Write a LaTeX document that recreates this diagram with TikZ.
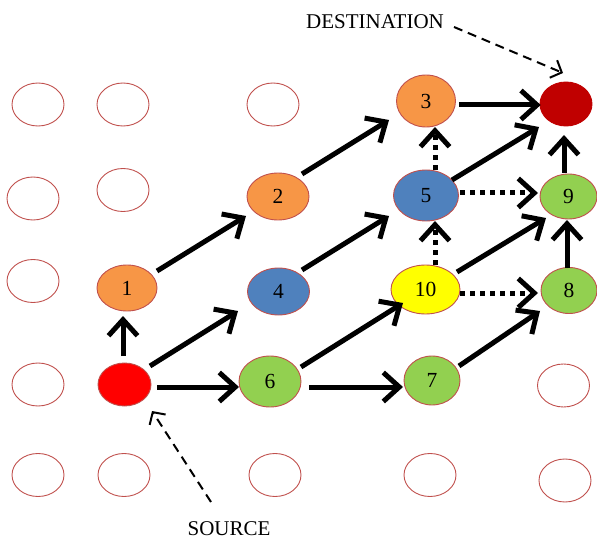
\documentclass[tikz,border=0pt]{standalone}
\usepackage{fontspec}
\setmainfont{Liberation Serif}
\usetikzlibrary{arrows.meta,shapes.geometric}
\definecolor{rim}{HTML}{C0504D}
\definecolor{orng}{HTML}{F79646}
\definecolor{blu}{HTML}{4F81BD}
\definecolor{grn}{HTML}{92D050}
\definecolor{ylw}{HTML}{FFFF00}
\definecolor{srcred}{HTML}{FF0000}
\definecolor{dstred}{HTML}{C00000}
\begin{document}
\begin{tikzpicture}[x=1pt,y=-1pt,
  cell/.style={ellipse, draw=rim, line width=0.9pt, minimum width=52pt, minimum height=43pt, inner sep=0pt},
  num/.style={font=\fontsize{21.5}{25}\selectfont, text=black},
  label/.style={font=\fontsize{21}{25}\selectfont, inner sep=0pt},
  link/.style={line width=5pt, -{Straight Barb[length=16pt,width=29pt]}},
  dotlink/.style={link, dash pattern=on 5pt off 5pt},
  hint/.style={line width=2pt, dash pattern=on 9pt off 6pt, -{Straight Barb[length=9pt,width=19pt]}},
]
\useasboundingbox (0,0) rectangle (597,540);

% empty grid cells
\node[cell] (e1) at (38,104.5) {};
\node[cell] (e2) at (123,104.5) {};
\node[cell] (e3) at (273,104.5) {};
\node[cell] (e4) at (33,198.5) {};
\node[cell] (e5) at (123,190) {};
\node[cell] (e6) at (33,281) {};
\node[cell] (e7) at (38,384.5) {};
\node[cell] (e8) at (563.5,385.5) {};
\node[cell] (e9) at (38,475) {};
\node[cell] (e10) at (124,475) {};
\node[cell] (e11) at (275,475) {};
\node[cell] (e12) at (430,475) {};
\node[cell] (e13) at (565,480.5) {};

% path cells
\node[cell, fill=srcred, minimum width=53pt, minimum height=43pt] (src) at (124.5,384.5) {};
\node[cell, fill=orng, minimum width=60pt, minimum height=46pt, num] (n1) at (127,288) {1};
\node[cell, fill=orng, minimum width=62pt, minimum height=47pt, num] (n2) at (278,196.5) {2};
\node[cell, fill=orng, minimum width=59pt, minimum height=52pt, num] (n3) at (426,101) {3};
\node[cell, fill=blu, minimum width=62pt, minimum height=47pt, num] (n4) at (278.5,291.5) {4};
\node[cell, fill=blu, minimum width=65pt, minimum height=51pt, num] (n5) at (426,195.5) {5};
\node[cell, fill=grn, minimum width=62pt, minimum height=51pt, num] (n6) at (270,381.5) {6};
\node[cell, fill=grn, minimum width=56pt, minimum height=49pt, num] (n7) at (432,380.5) {7};
\node[cell, fill=grn, minimum width=56pt, minimum height=46pt, num] (n8) at (569,290.5) {8};
\node[cell, fill=grn, minimum width=57pt, minimum height=45pt, num] (n9) at (568.5,196.5) {9};
\node[cell, fill=ylw, minimum width=69pt, minimum height=49pt, num] (n10) at (425.5,289.5) {10};
\node[cell, fill=dstred, draw=dstred, minimum width=52pt, minimum height=44pt] (dst) at (566,104) {};

% labels
\node[label] (dlabel) at (375,22) {DESTINATION};
\node[label] (slabel) at (229,529) {SOURCE};

% solid moves
\draw[link] ([shift={(-1.5,-28.5)}]src.center) -- ([shift={(-4,28)}]n1.center);
\draw[link] ([shift={(25.5,-18.5)}]src.center) -- ([shift={(-40.5,19.5)}]n4.center);
\draw[link] ([shift={(32.5,2.5)}]src.center) -- ([shift={(-31,5.5)}]n6.center);
\draw[link] ([shift={(30,-17)}]n1.center) -- ([shift={(-32,19.5)}]n2.center);
\draw[link] ([shift={(24,-22.5)}]n2.center) -- ([shift={(-37,19)}]n3.center);
\draw[link] ([shift={(23.5,-21.5)}]n4.center) -- ([shift={(-37,20.5)}]n5.center);
\draw[link] ([shift={(31,-14.5)}]n6.center) -- ([shift={(-22.5,13.5)}]n10.center);
\draw[link] ([shift={(39,5.5)}]n6.center) -- ([shift={(-29,6.5)}]n7.center);
\draw[link] ([shift={(27,-14.5)}]n7.center) -- ([shift={(-29,20.5)}]n8.center);
\draw[link] ([shift={(31.5,-17.5)}]n10.center) -- ([shift={(-22.5,21.5)}]n9.center);
\draw[link] ([shift={(26,-15.5)}]n5.center) -- ([shift={(-27,23)}]dst.center);
\draw[link] ([shift={(33,4)}]n3.center) -- ([shift={(-25.3,1)}]dst.center);
\draw[link] ([shift={(-4.5,-23.5)}]n9.center) -- ([shift={(-2,31)}]dst.center);
\draw[link] ([shift={(-2,-22.5)}]n8.center) -- ([shift={(-1.5,23.5)}]n9.center);

% dotted moves
\draw[dotlink] ([shift={(34.5,3.5)}]n10.center) -- ([shift={(-31,2.5)}]n8.center);
\draw[dotlink] ([shift={(9.5,-24.5)}]n10.center) -- ([shift={(9,25.5)}]n5.center);
\draw[dotlink] ([shift={(9,-25.5)}]n5.center) -- ([shift={(9,26)}]n3.center);
\draw[dotlink] ([shift={(34,-2.5)}]n5.center) -- ([shift={(-30.5,-3.5)}]n9.center);

% label pointers
\draw[hint] ([shift={(10,5)}]dlabel.east) -- ([shift={(-3,-31)}]dst.center);
\draw[hint] ([shift={(-18,-27)}]slabel.center) -- ([shift={(27.5,26.5)}]src.center);
\end{tikzpicture}
\end{document}
